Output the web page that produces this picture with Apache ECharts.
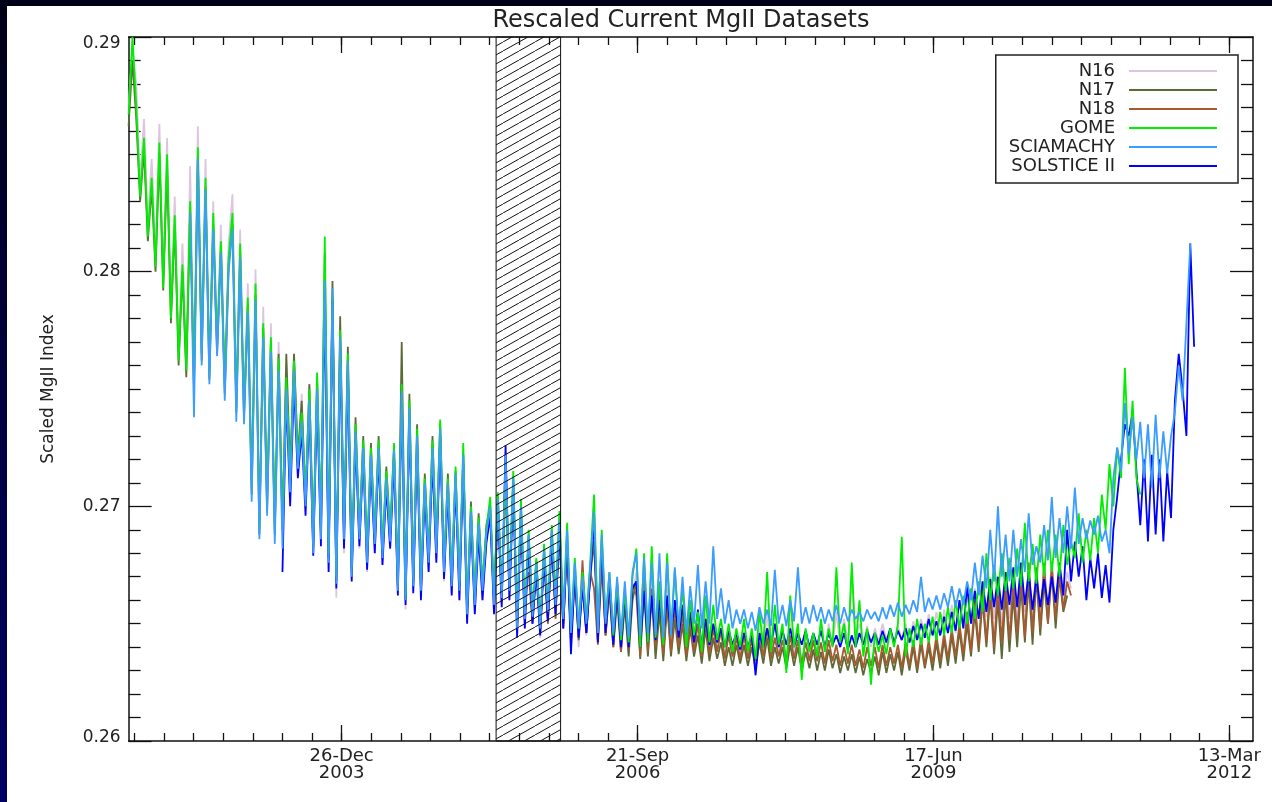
<!DOCTYPE html>
<html>
<head>
<meta charset="utf-8">
<script src="https://cdn.jsdelivr.net/npm/echarts@6/dist/echarts.min.js"></script>
<style>
  html, body { margin: 0; padding: 0; width: 1272px; height: 802px; overflow: hidden;
    background: linear-gradient(180deg, #000018 0%, #00003c 45%, #000064 100%); }
  #chart { position: absolute; left: 7px; top: 6px; width: 1265px; height: 796px; background: #ffffff; }
</style>
</head>
<body>
<div id="chart"></div>
<script>
// ---- axis / tick data ----
const X_MIN = 2452280;           // Julian day at left edge
const X_MAX = 2456080;           // Julian day at right edge
const xTickValues = [2453000, 2454000, 2455000, 2456000];
const xTickLabels = ['26-Dec\n2003', '21-Sep\n2006', '17-Jun\n2009', '13-Mar\n2012'];
const xMinorTickValues = [];
for (let d = 2452300; d <= 2456000; d += 100) xMinorTickValues.push(d);
const yTickLabels = ['0.26', '0.27', '0.28', '0.29'];
const hatchRange = [2453522, 2453740];

const STEP = 13;
const seriesNames = ['N16', 'N17', 'N18', 'GOME', 'SCIAMACHY', 'SOLSTICE II'];

const n16Start = 2452280;
const n16Values = [
0.2870,0.2895,0.2880,0.2838,0.2865,0.2822,0.2848,0.2810,0.2863,0.2800,
0.2857,0.2785,0.2832,0.2770,0.2812,0.2765,0.2845,0.2758,0.2862,0.2770,
0.2848,0.2760,0.2830,0.2772,0.2820,0.2755,0.2812,0.2833,0.2748,0.2818,
0.2745,0.2795,0.2712,0.2801,0.2695,0.2785,0.2705,0.2778,0.2695,0.2770,
0.2690,0.2760,0.2708,0.2765,0.2715,0.2748,0.2700,0.2752,0.2680,0.2755,
0.2688,0.2795,0.2672,0.2785,0.2661,0.2772,0.2680,0.2762,0.2668,0.2732,
0.2682,0.2725,0.2672,0.2722,0.2680,0.2725,0.2675,0.2712,0.2682,0.2722,
0.2662,0.2750,0.2656,0.2742,0.2664,0.2730,0.2662,0.2710,0.2672,0.2722,
0.2678,0.2730,0.2668,0.2708,0.2663,0.2713,0.2660,0.2720,0.2652,0.2697,
0.2655,0.2692,0.2660,0.2688,0.2698,0.2655,0.2700,0.2658,0.2708,0.2660,
0.2710,0.2646,0.2698,0.2648,0.2685,0.2650,0.2674,0.2644,0.2680,0.2650,
0.2686,0.2654,0.2690,0.2648,0.2686,0.2642,0.2673,0.2640,0.2667,0.2645,
0.2670,0.2690,0.2642,0.2682,0.2645,0.2666,0.2640,0.2663,0.2638,0.2660,
0.2637,0.2662,0.2672,0.2636,0.2670,0.2637,0.2668,0.2638,0.2660,0.2636,
0.2665,0.2640,0.2660,0.2642,0.2655,0.2637,0.2652,0.2640,0.2650,0.2636,
0.2654,0.2638,0.2650,0.2639,0.2647,0.2636,0.2646,0.2635,0.2645,0.2637,
0.2647,0.2635,0.2645,0.2634,0.2648,0.2637,0.2655,0.2636,0.2650,0.2638,
0.2646,0.2635,0.2650,0.2637,0.2646,0.2634,0.2645,0.2636,0.2646,0.2637,
0.2648,0.2638,0.2650,0.2640,0.2655,0.2641,0.2652,0.2642,0.2671,0.2643,
0.2650,0.2642,0.2649,0.2640,0.2648,0.2642,0.2650,0.2643,0.2648,0.2641,
0.2649,0.2643,0.2650,0.2642,0.2651,0.2644,0.2652,0.2645,0.2654,0.2646,
0.2655,0.2645,0.2656,0.2647,0.2658,0.2646,0.2660,0.2648,0.2662,0.2650,
0.2665,0.2652,0.2668,0.2653,0.2670,0.2652,0.2668,0.2650,0.2670,0.2652,
0.2668,0.2650,0.2672,0.2655,0.2670,0.2653,0.2675,0.2655,0.2673,0.2657,
0.2676,0.2658,0.2674,0.2660,0.2672,0.2665
];

const n17Start = 2452280;
const n17Values = [
0.2862,0.2890,0.2865,0.2830,0.2852,0.2813,0.2836,0.2800,0.2850,0.2792,
0.2845,0.2778,0.2820,0.2760,0.2800,0.2755,0.2826,0.2750,0.2848,0.2762,
0.2836,0.2754,0.2820,0.2765,0.2810,0.2748,0.2803,0.2820,0.2740,0.2808,
0.2738,0.2786,0.2705,0.2790,0.2688,0.2776,0.2698,0.2770,0.2688,0.2765,
0.2690,0.2765,0.2715,0.2765,0.2722,0.2745,0.2703,0.2752,0.2683,0.2754,
0.2690,0.2808,0.2678,0.2796,0.2668,0.2781,0.2688,0.2768,0.2673,0.2738,
0.2688,0.2730,0.2678,0.2727,0.2686,0.2730,0.2680,0.2717,0.2688,0.2725,
0.2666,0.2770,0.2660,0.2748,0.2668,0.2735,0.2666,0.2714,0.2678,0.2730,
0.2683,0.2735,0.2674,0.2714,0.2668,0.2715,0.2666,0.2722,0.2656,0.2702,
0.2660,0.2697,0.2665,0.2692,0.2700,0.2660,0.2703,0.2662,0.2710,0.2665,
0.2712,0.2650,0.2700,0.2652,0.2687,0.2653,0.2676,0.2647,0.2680,0.2652,
0.2686,0.2656,0.2690,0.2650,0.2684,0.2644,0.2672,0.2643,0.2668,0.2646,
0.2670,0.2685,0.2643,0.2680,0.2645,0.2664,0.2640,0.2660,0.2638,0.2658,
0.2636,0.2660,0.2668,0.2635,0.2665,0.2636,0.2662,0.2635,0.2655,0.2634,
0.2658,0.2636,0.2652,0.2637,0.2650,0.2634,0.2648,0.2636,0.2645,0.2633,
0.2648,0.2634,0.2644,0.2635,0.2642,0.2632,0.2640,0.2632,0.2641,0.2633,
0.2641,0.2632,0.2640,0.2631,0.2642,0.2633,0.2644,0.2632,0.2640,0.2633,
0.2640,0.2631,0.2641,0.2632,0.2640,0.2630,0.2638,0.2631,0.2639,0.2630,
0.2638,0.2630,0.2639,0.2631,0.2637,0.2629,0.2636,0.2630,0.2637,0.2629,
0.2636,0.2628,0.2635,0.2629,0.2636,0.2628,0.2638,0.2629,0.2637,0.2630,
0.2638,0.2628,0.2639,0.2630,0.2640,0.2629,0.2641,0.2631,0.2640,0.2630,
0.2642,0.2631,0.2643,0.2632,0.2645,0.2633,0.2647,0.2634,0.2650,0.2636,
0.2655,0.2638,0.2660,0.2640,0.2662,0.2637,0.2660,0.2635,0.2663,0.2638,
0.2662,0.2640,0.2666,0.2642,0.2668,0.2641,0.2670,0.2645,0.2668,0.2650,
0.2672,0.2648,0.2670,0.2655,0.2662
];

const n18Start = 2453632;
const n18Values = [
0.2672,0.2650,0.2677,0.2646,0.2680,0.2650,
0.2688,0.2652,0.2695,0.2648,0.2685,0.2642,0.2670,0.2644,0.2677,0.2646,
0.2672,0.2665,0.2641,0.2675,0.2645,0.2666,0.2640,0.2667,0.2638,0.2662,
0.2639,0.2667,0.2662,0.2636,0.2670,0.2638,0.2665,0.2640,0.2662,0.2637,
0.2660,0.2638,0.2657,0.2640,0.2655,0.2636,0.2652,0.2638,0.2650,0.2636,
0.2652,0.2637,0.2648,0.2638,0.2647,0.2635,0.2645,0.2636,0.2644,0.2635,
0.2645,0.2635,0.2643,0.2634,0.2646,0.2636,0.2648,0.2635,0.2644,0.2636,
0.2643,0.2634,0.2645,0.2635,0.2643,0.2633,0.2642,0.2634,0.2643,0.2634,
0.2642,0.2633,0.2643,0.2634,0.2641,0.2632,0.2640,0.2633,0.2641,0.2632,
0.2639,0.2631,0.2640,0.2632,0.2640,0.2631,0.2641,0.2632,0.2640,0.2633,
0.2641,0.2631,0.2642,0.2632,0.2643,0.2631,0.2644,0.2632,0.2643,0.2633,
0.2645,0.2634,0.2646,0.2635,0.2648,0.2636,0.2650,0.2637,0.2655,0.2638,
0.2660,0.2640,0.2665,0.2642,0.2668,0.2640,0.2667,0.2642,0.2669,0.2643,
0.2668,0.2645,0.2672,0.2644,0.2676,0.2646,0.2674,0.2648,0.2676,0.2650,
0.2675,0.2652,0.2673,0.2656,0.2668,0.2662
];

const gomeStart = 2452280;
const gomeValues = [
0.2867,0.2900,0.2870,0.2832,0.2857,0.2815,0.2840,0.2802,0.2855,0.2793,
0.2850,0.2780,0.2824,0.2762,0.2803,0.2758,0.2830,0.2751,0.2853,0.2765,
0.2840,0.2756,0.2825,0.2768,0.2813,0.2750,0.2806,0.2825,0.2742,0.2812,
0.2740,0.2789,0.2708,0.2795,0.2690,0.2778,0.2700,0.2772,0.2690,0.2763,
0.2692,0.2755,0.2712,0.2762,0.2720,0.2740,0.2705,0.2750,0.2685,0.2757,
0.2692,0.2815,0.2680,0.2790,0.2670,0.2775,0.2690,0.2765,0.2675,0.2735,
0.2690,0.2728,0.2680,0.2725,0.2688,0.2728,0.2682,0.2715,0.2690,0.2727,
0.2668,0.2752,0.2662,0.2745,0.2670,0.2733,0.2668,0.2712,0.2680,0.2728,
0.2685,0.2737,0.2676,0.2712,0.2670,0.2717,0.2668,0.2727,0.2658,0.2700,
0.2662,0.2695,0.2668,0.2690,0.2704,0.2662,0.2706,0.2665,0.2712,0.2668,
0.2715,0.2652,0.2703,0.2655,0.2690,0.2656,0.2678,0.2650,0.2684,0.2658,
0.2692,0.2662,0.2698,0.2655,0.2693,0.2648,0.2678,0.2648,0.2672,0.2652,
0.2676,0.2705,0.2648,0.2690,0.2652,0.2672,0.2645,0.2668,0.2643,0.2664,
0.2642,0.2670,0.2682,0.2640,0.2680,0.2642,0.2683,0.2644,0.2668,0.2641,
0.2680,0.2645,0.2673,0.2648,0.2665,0.2640,0.2660,0.2645,0.2655,0.2638,
0.2662,0.2642,0.2658,0.2643,0.2652,0.2640,0.2650,0.2638,0.2648,0.2640,
0.2652,0.2638,0.2648,0.2635,0.2655,0.2640,0.2672,0.2638,0.2658,0.2641,
0.2650,0.2629,0.2662,0.2640,0.2650,0.2626,0.2648,0.2638,0.2646,0.2636,
0.2652,0.2638,0.2648,0.2640,0.2674,0.2642,0.2650,0.2637,0.2676,0.2640,
0.2660,0.2636,0.2648,0.2624,0.2646,0.2638,0.2645,0.2637,0.2648,0.2640,
0.2650,0.2687,0.2636,0.2648,0.2640,0.2652,0.2641,0.2650,0.2642,0.2653,
0.2643,0.2655,0.2645,0.2657,0.2646,0.2660,0.2648,0.2662,0.2650,0.2665,
0.2652,0.2668,0.2655,0.2680,0.2660,0.2675,0.2662,0.2680,0.2664,0.2678,
0.2665,0.2682,0.2666,0.2693,0.2668,0.2684,0.2667,0.2688,0.2670,0.2690,
0.2672,0.2688,0.2670,0.2692,0.2675,0.2685,0.2678,0.2697,0.2676,0.2690,
0.2677,0.2695,0.2680,0.2705,0.2690,0.2718,0.2700,0.2725,0.2712,0.2759,
0.2718,0.2745,0.2712,0.2705
];

const sciaStart = 2452488;
const sciaValues = [
0.2825,0.2738,0.2848,0.2760,
0.2835,0.2752,0.2818,0.2764,0.2808,0.2745,0.2800,0.2818,0.2736,0.2806,
0.2735,0.2783,0.2702,0.2788,0.2686,0.2772,0.2696,0.2766,0.2684,0.2758,
0.2682,0.2750,0.2706,0.2758,0.2716,0.2736,0.2700,0.2745,0.2680,0.2750,
0.2686,0.2796,0.2676,0.2793,0.2667,0.2772,0.2686,0.2762,0.2670,0.2732,
0.2686,0.2725,0.2676,0.2722,0.2684,0.2725,0.2678,0.2712,0.2685,0.2724,
0.2664,0.2749,0.2660,0.2742,0.2666,0.2730,0.2664,0.2710,0.2676,0.2725,
0.2680,0.2733,0.2672,0.2710,0.2666,0.2714,0.2664,0.2722,0.2654,0.2698,
0.2658,0.2693,0.2664,0.2688,0.2700,0.2658,0.2703,0.2661,0.2722,0.2664,
0.2712,0.2648,0.2700,0.2652,0.2688,0.2653,0.2676,0.2648,0.2682,0.2655,
0.2690,0.2658,0.2694,0.2652,0.2690,0.2646,0.2676,0.2648,0.2670,0.2650,
0.2674,0.2698,0.2646,0.2688,0.2650,0.2672,0.2646,0.2670,0.2645,0.2668,
0.2644,0.2672,0.2680,0.2645,0.2678,0.2646,0.2676,0.2645,0.2680,0.2644,
0.2676,0.2645,0.2674,0.2647,0.2670,0.2646,0.2666,0.2650,0.2675,0.2648,
0.2668,0.2650,0.2683,0.2652,0.2665,0.2650,0.2660,0.2648,0.2656,0.2650,
0.2656,0.2648,0.2655,0.2647,0.2657,0.2650,0.2656,0.2649,0.2673,0.2650,
0.2658,0.2649,0.2660,0.2651,0.2674,0.2650,0.2657,0.2650,0.2658,0.2651,
0.2657,0.2650,0.2656,0.2651,0.2658,0.2650,0.2657,0.2651,0.2656,0.2652,
0.2655,0.2651,0.2656,0.2652,0.2655,0.2651,0.2657,0.2652,0.2658,0.2653,
0.2659,0.2653,0.2658,0.2654,0.2660,0.2655,0.2670,0.2655,0.2661,0.2656,
0.2662,0.2656,0.2663,0.2657,0.2666,0.2657,0.2665,0.2658,0.2668,0.2660,
0.2676,0.2662,0.2679,0.2665,0.2690,0.2668,0.2700,0.2670,0.2688,0.2668,
0.2690,0.2670,0.2686,0.2672,0.2697,0.2675,0.2683,0.2676,0.2692,0.2677,
0.2704,0.2678,0.2695,0.2680,0.2700,0.2682,0.2708,0.2684,0.2695,0.2686,
0.2694,0.2688,0.2696,0.2685,0.2690,0.2680,0.2712,0.2725,0.2715,0.2744,
0.2722,0.2738,0.2720,0.2736,0.2712,0.2735,0.2708,0.2739,0.2712,0.2732,
0.2714,0.2730,0.2740,0.2760,0.2745,0.2778,0.2812
];

const solsticeStart = 2452800;
const solsticeValues = [
0.2672,0.2748,0.2700,0.2752,0.2712,0.2732,0.2696,0.2742,0.2679,0.2746,
0.2683,0.2790,0.2672,0.2788,0.2665,0.2768,0.2682,0.2758,0.2668,0.2728,
0.2683,0.2722,0.2673,0.2718,0.2680,0.2722,0.2675,0.2708,0.2682,0.2720,
0.2662,0.2745,0.2658,0.2738,0.2663,0.2726,0.2660,0.2706,0.2672,0.2720,
0.2676,0.2730,0.2669,0.2706,0.2662,0.2710,0.2660,0.2718,0.2650,0.2694,
0.2654,0.2688,0.2660,0.2684,0.2696,0.2654,0.2700,0.2657,0.2726,0.2660,
0.2708,0.2644,0.2696,0.2648,0.2684,0.2650,0.2672,0.2645,0.2678,0.2651,
0.2686,0.2654,0.2690,0.2648,0.2686,0.2637,0.2672,0.2644,0.2666,0.2646,
0.2670,0.2694,0.2642,0.2684,0.2646,0.2668,0.2641,0.2665,0.2640,0.2662,
0.2640,0.2665,0.2668,0.2640,0.2664,0.2642,0.2662,0.2643,0.2660,0.2644,
0.2662,0.2645,0.2660,0.2644,0.2658,0.2643,0.2655,0.2642,0.2656,0.2640,
0.2652,0.2641,0.2650,0.2642,0.2648,0.2640,0.2647,0.2641,0.2646,0.2639,
0.2646,0.2640,0.2645,0.2628,0.2646,0.2640,0.2648,0.2641,0.2650,0.2640,
0.2647,0.2641,0.2648,0.2640,0.2646,0.2641,0.2647,0.2640,0.2646,0.2641,
0.2647,0.2640,0.2646,0.2641,0.2645,0.2640,0.2646,0.2639,0.2645,0.2640,
0.2646,0.2641,0.2647,0.2642,0.2646,0.2641,0.2647,0.2642,0.2648,0.2642,
0.2647,0.2643,0.2648,0.2642,0.2649,0.2643,0.2650,0.2644,0.2652,0.2645,
0.2651,0.2645,0.2653,0.2646,0.2655,0.2647,0.2660,0.2648,0.2666,0.2650,
0.2664,0.2652,0.2668,0.2655,0.2669,0.2657,0.2670,0.2656,0.2672,0.2658,
0.2674,0.2657,0.2676,0.2658,0.2672,0.2656,0.2670,0.2657,0.2669,0.2658,
0.2670,0.2659,0.2676,0.2662,0.2690,0.2668,0.2685,0.2670,0.2683,0.2660,
0.2678,0.2665,0.2680,0.2661,0.2675,0.2659,0.2690,0.2704,0.2720,0.2735,
0.2730,0.2740,0.2715,0.2692,0.2720,0.2685,0.2722,0.2688,0.2720,0.2685,
0.2715,0.2695,0.2745,0.2765,0.2750,0.2730,0.2812,0.2768
];

const seriesColors = {
  'N16': '#dcc6de',
  'N17': '#5c6b36',
  'N18': '#a65a30',
  'GOME': '#00ee00',
  'SCIAMACHY': '#3a9dff',
  'SOLSTICE II': '#0000ff'
};

function toPairs(start, values) {
  return values.map((v, i) => [start + i * STEP, v]);
}

// hatch pattern for the gap region
function makeHatch() {
  const c = document.createElement('canvas');
  c.width = 16; c.height = 9;
  const g = c.getContext('2d');
  g.strokeStyle = '#111';
  g.lineWidth = 1;
  g.beginPath();
  g.moveTo(-2, 10.125); g.lineTo(18, -1.125);
  g.stroke();
  return c;
}

const FONT = 'DejaVu Sans';
const chart = echarts.init(document.getElementById('chart'), null, { renderer: 'canvas' });

function lineSeries(name, start, values) {
  return {
    name: name, type: 'line', xAxisIndex: 0, yAxisIndex: 0,
    data: toPairs(start, values),
    showSymbol: false, symbol: 'none', silent: true,
    color: seriesColors[name],
    lineStyle: { width: 1.8, color: seriesColors[name] },
    z: 2
  };
}

const xAxisCommon = { type: 'value', min: X_MIN, max: X_MAX, splitLine: { show: false }, axisPointer: { show: false } };

const option = {
  animation: false,
  grid: { left: 121.6, right: 19, top: 31, bottom: 61, containLabel: false },
  graphic: [{
    type: 'text', x: 674, y: 15,
    style: { text: 'Rescaled Current MgII Datasets', font: '24px "' + FONT + '"', fill: '#222', align: 'center', verticalAlign: 'middle' }
  }],
  legend: {
    data: seriesNames,
    orient: 'vertical', align: 'right',
    right: 34, top: 49,
    icon: 'rect', itemWidth: 88, itemHeight: 2, itemGap: 1,
    padding: [7, 21, 8, 13],
    borderColor: '#222', borderWidth: 1.5, backgroundColor: '#fff',
    selectedMode: false,
    textStyle: { fontFamily: FONT, fontSize: 18, color: '#222', lineHeight: 18, padding: [0, 9, 0, 0] }
  },
  xAxis: [
    Object.assign({}, xAxisCommon, {
      position: 'bottom',
      axisLine: { show: true, onZero: false, lineStyle: { color: '#111', width: 1.5 } },
      axisTick: { show: true, inside: true, length: 16, customValues: xTickValues, lineStyle: { color: '#111', width: 1.3 } },
      axisLabel: { show: true, customValues: xTickValues, margin: 7, fontFamily: FONT, fontSize: 18, color: '#222', lineHeight: 17,
        formatter: function (v) { const k = xTickValues.indexOf(v); return k >= 0 ? xTickLabels[k] : ''; } }
    }),
    Object.assign({}, xAxisCommon, {
      position: 'bottom',
      axisLine: { show: false, onZero: false },
      axisTick: { show: true, inside: true, length: 8, customValues: xMinorTickValues, lineStyle: { color: '#111', width: 1.3 } },
      axisLabel: { show: false }
    }),
    Object.assign({}, xAxisCommon, {
      position: 'top',
      axisLine: { show: true, onZero: false, lineStyle: { color: '#111', width: 1.5 } },
      axisTick: { show: true, inside: true, length: 16, customValues: xTickValues, lineStyle: { color: '#111', width: 1.3 } },
      axisLabel: { show: false }
    }),
    Object.assign({}, xAxisCommon, {
      position: 'top',
      axisLine: { show: false, onZero: false },
      axisTick: { show: true, inside: true, length: 8, customValues: xMinorTickValues, lineStyle: { color: '#111', width: 1.3 } },
      axisLabel: { show: false }
    })
  ],
  yAxis: [
    {
      type: 'value', position: 'left', min: 0.26, max: 0.29, interval: 0.01,
      name: 'Scaled MgII Index', nameLocation: 'middle', nameGap: 72, nameRotate: 90,
      nameTextStyle: { fontFamily: FONT, fontSize: 17, color: '#222' },
      axisLine: { show: true, onZero: false, lineStyle: { color: '#111', width: 1.5 } },
      axisTick: { show: true, inside: true, length: 23, lineStyle: { color: '#111', width: 1.3 } },
      minorTick: { show: true, splitNumber: 10, length: 12, lineStyle: { color: '#111', width: 1.3 } },
      splitLine: { show: false },
      axisLabel: { margin: 8, fontFamily: FONT, fontSize: 17, color: '#222',
        formatter: function (v) {
          const k = Math.round((v - 0.26) * 100);
          const t = yTickLabels[k] || '';
          if (k === 3) return '{top|' + t + '}';
          if (k === 0) return '{bot|' + t + '}';
          return t;
        },
        rich: {
          top: { fontFamily: FONT, fontSize: 17, color: '#222', padding: [13, 0, 0, 0] },
          bot: { fontFamily: FONT, fontSize: 17, color: '#222', padding: [0, 0, 7, 0] }
        }
      }
    },
    {
      type: 'value', position: 'right', min: 0.26, max: 0.29, interval: 0.01,
      axisLine: { show: true, onZero: false, lineStyle: { color: '#111', width: 1.5 } },
      axisTick: { show: true, inside: true, length: 23, lineStyle: { color: '#111', width: 1.3 } },
      minorTick: { show: true, splitNumber: 10, length: 12, lineStyle: { color: '#111', width: 1.3 } },
      splitLine: { show: false },
      axisLabel: { show: false }
    }
  ],
  series: [
    lineSeries('N16', n16Start, n16Values),
    lineSeries('N17', n17Start, n17Values),
    lineSeries('N18', n18Start, n18Values),
    lineSeries('SOLSTICE II', solsticeStart, solsticeValues),
    lineSeries('GOME', gomeStart, gomeValues),
    lineSeries('SCIAMACHY', sciaStart, sciaValues),
    {
      name: 'gap', type: 'line', data: [], z: 10, silent: true,
      markArea: {
        silent: true, z: 10,
        itemStyle: { color: { image: makeHatch(), repeat: 'repeat' }, borderColor: '#111', borderWidth: 1 },
        data: [[{ xAxis: hatchRange[0] }, { xAxis: hatchRange[1] }]]
      }
    }
  ]
};
chart.setOption(option);
</script>
</body>
</html>
